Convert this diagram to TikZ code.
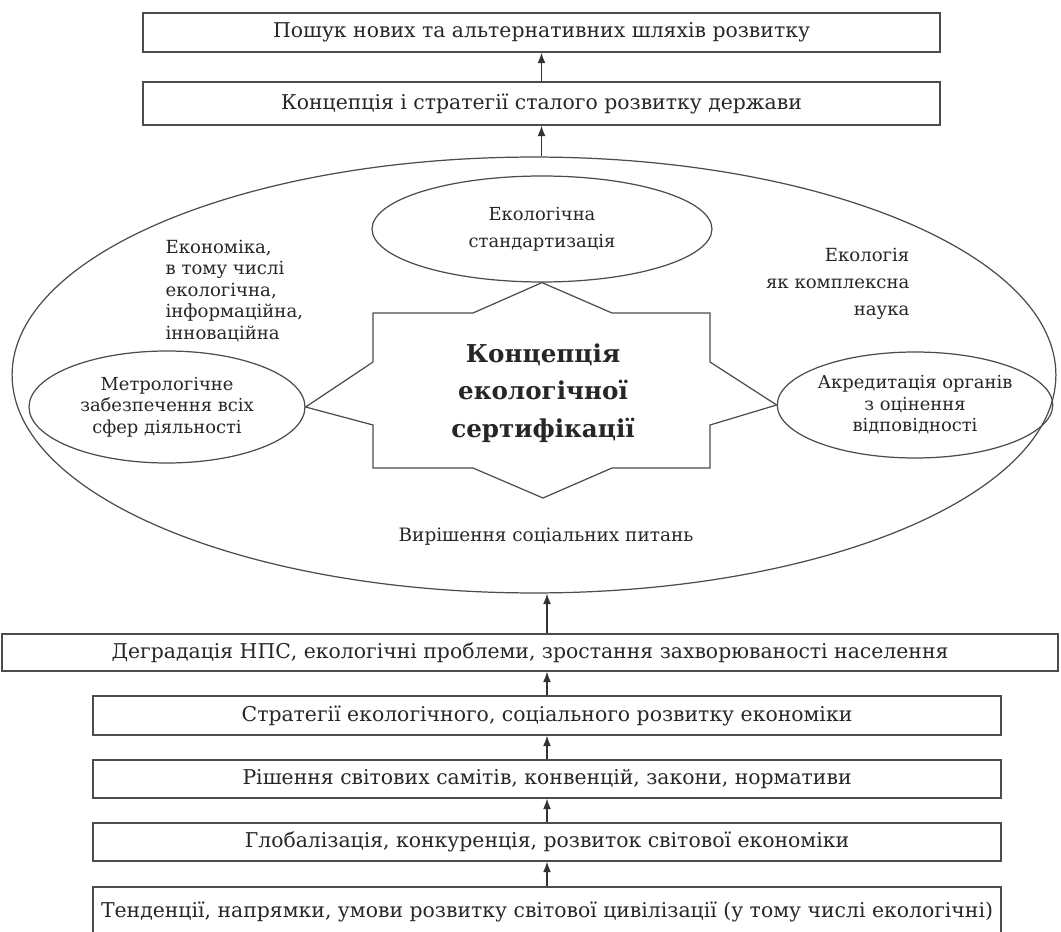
\documentclass[tikz,border=0pt]{standalone}
\usepackage{fontspec}
\setmainfont{DejaVu Serif}
\usetikzlibrary{shapes.geometric,arrows.meta}

\begin{document}
\begin{tikzpicture}[x=0.02cm,y=-0.02cm,line width=0.7pt,
  every node/.style={inner sep=0pt,text=black!85},
  box/.style={draw=black!70,minimum width=18.16cm,minimum height=0.78cm,font=\fontsize{11.6}{13}\selectfont},
  oval/.style={draw=black!70,ellipse,align=center,font=\fontsize{10.2}{12.2}\selectfont},
  note/.style={font=\fontsize{10.3}{12.2}\selectfont},
  up/.style={draw=black!80,-{Latex[length=6pt,width=4.5pt]}}]
\useasboundingbox (0,0) rectangle (1061,932);

\node[box,minimum width=15.94cm] (search) at (541.5,32.5) {Пошук нових та альтернативних шляхів розвитку};
\node[box,minimum width=15.94cm,minimum height=0.86cm] (strat) at (541.5,103.5) {Концепція і стратегії сталого розвитку держави};

\node[draw=black!70,ellipse,minimum width=20.88cm,minimum height=8.72cm] (eco) at (534,375) {};
\node[oval,minimum width=6.8cm,minimum height=2.12cm,font=\fontsize{10.2}{15.3}\selectfont] (std) at (542,229) {Екологічна\\стандартизація};
\node[oval,minimum width=5.52cm,minimum height=2.24cm] (metro) at (167,407) {Метрологічне\\забезпечення всіх\\сфер діяльності};
\node[oval,minimum width=5.44cm,minimum height=2.12cm] (accr) at (915,405) {Акредитація органів\\з оцінення\\відповідності};

\node[note,align=left,anchor=west] (econ) at (165,291) {Економіка,\\в тому числі\\екологічна,\\інформаційна,\\інноваційна};
\node[note,align=right,anchor=east,font=\fontsize{10.3}{15.3}\selectfont] (ecol) at (910,284) {Екологія\\як комплексна\\наука};

\draw[draw=black!70] (373,313) -- (473,313) -- (std.south) -- (612,313) -- (710,313) -- (710,362) -- (accr.west)
  -- (710,425) -- (710,468) -- (612,468) -- (543,498) -- (473,468) -- (373,468) -- (373,425)
  -- (metro.east) -- (373,362) -- cycle;
\node[align=center,font=\fontsize{14}{21.3}\bfseries\selectfont] (concept) at (543,393) {Концепція\\екологічної\\сертифікації};
\node[note,font=\fontsize{10.5}{12.2}\selectfont] (social) at (546,537) {Вирішення соціальних питань};

\node[box,minimum width=21.12cm,minimum height=0.74cm] (degr) at (530,652.5) {Деградація НПС, екологічні проблеми, зростання захворюваності населення};
\node[box] (ecstrat) at (547,715.5) {Стратегії екологічного, соціального розвитку економіки};
\node[box,minimum height=0.76cm] (summit) at (547,779) {Рішення світових самітів, конвенцій, закони, нормативи};
\node[box,minimum height=0.76cm] (global) at (547,842) {Глобалізація, конкуренція, розвиток світової економіки};
\node[box,minimum height=1cm] (trend) at (547,912) {Тенденції, напрямки, умови розвитку світової цивілізації (у тому числі екологічні)};

\draw[up] (strat.north) -- (search.south);
\draw[up] (strat.south |- eco.north) -- (strat.south);
\draw[up] (ecstrat.north |- degr.north) -- (ecstrat.north |- eco.south);
\draw[up] (ecstrat.north) -- (ecstrat.north |- degr.south);
\draw[up] (summit.north) -- (ecstrat.south);
\draw[up] (global.north) -- (summit.south);
\draw[up] (trend.north) -- (global.south);
\end{tikzpicture}
\end{document}
